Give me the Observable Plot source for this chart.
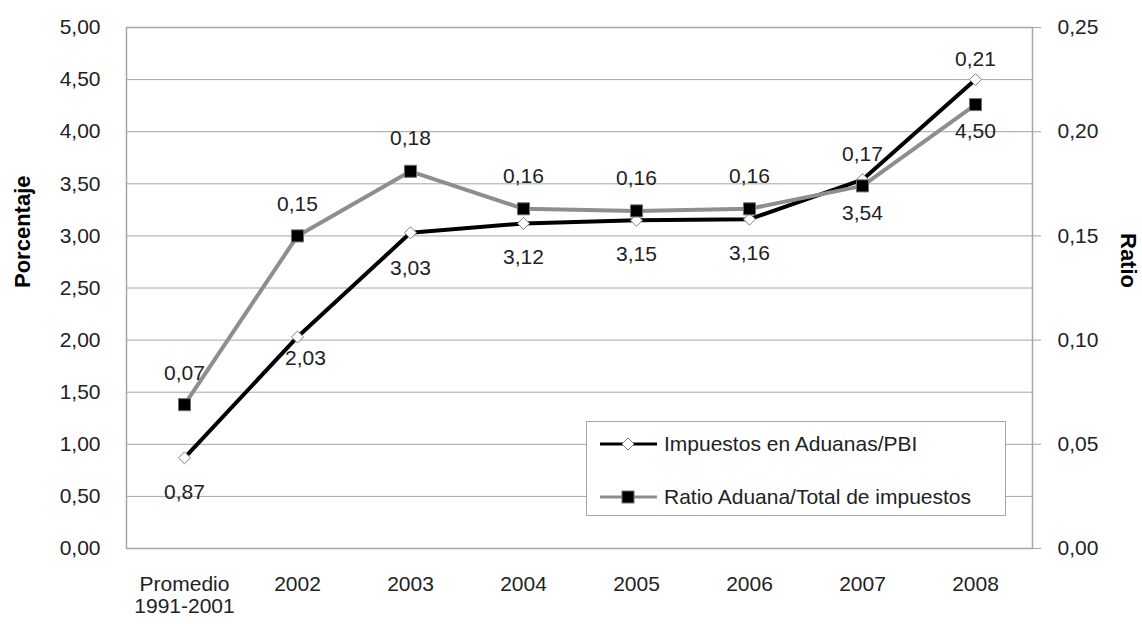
<!DOCTYPE html>
<html>
<head>
<meta charset="utf-8">
<script src="https://cdn.jsdelivr.net/npm/d3@7"></script>
<script src="https://cdn.jsdelivr.net/npm/@observablehq/plot@0.6"></script>
<style>
  html, body { margin: 0; padding: 0; background: #fff; }
  #chart { position: relative; width: 1142px; height: 624px; font-family: "Liberation Sans", Arial, sans-serif; color: #222; }
  #legend {
    position: absolute; left: 586px; top: 421px; width: 420px; height: 95px;
    background: #fff; border: 1px solid #a6a6a6; box-sizing: border-box;
    font-size: 21px; color: #222;
  }
  #legend .item { position: absolute; left: 13px; height: 24px; display: flex; align-items: center; }
  #legend svg { display: block; margin-right: 6px; }
</style>
</head>
<body>
<div id="chart"></div>
<script>
// Categories on the horizontal axis
const categories = ["Promedio\n1991-2001", "2002", "2003", "2004", "2005", "2006", "2007", "2008"];
// Customs taxes as a share of GDP (%), left axis
const impuestosPBI = [0.87, 2.03, 3.03, 3.12, 3.15, 3.16, 3.54, 4.50];
// Customs / total tax ratio, right axis
const ratioAduana = [0.069, 0.150, 0.181, 0.163, 0.162, 0.163, 0.174, 0.213];
// Axis ticks
const leftTicks = [0, 0.5, 1, 1.5, 2, 2.5, 3, 3.5, 4, 4.5, 5];
const rightTicks = [0, 0.05, 0.10, 0.15, 0.20, 0.25];
const rightMax = 0.25;
const leftMax = 5;
const seriesNames = ["Impuestos en Aduanas/PBI", "Ratio Aduana/Total de impuestos"];

// Label placement (pixel offsets from each point)
const pbiLabelDy = [34, 21, 35, 34, 34, 34, 34, 52];
const pbiLabelDx = [0, 8, 0, 0, 0, 0, 0, 0];
const ratioLabelDy = [-31, -32, -33, -33, -33, -33, -32, -45];

// The ratio series shares the left scale, stretched so 0.25 meets 5.00
const scaleRatio = leftMax / rightMax;
const fmt = v => v.toFixed(2).replace(".", ",");

const pbi = categories.map((c, i) => ({cat: c, v: impuestosPBI[i]}));
const ratio = categories.map((c, i) => ({cat: c, v: ratioAduana[i], y: ratioAduana[i] * scaleRatio}));

const gray = "#a6a6a6";
const lineGray = "#8e8e8e";
const textColor = "#222";

const marks = [
  Plot.gridY(leftTicks, {stroke: gray, strokeOpacity: 1, strokeWidth: 1}),
  Plot.frame({stroke: gray, strokeWidth: 1.5}),
  Plot.axisY(leftTicks, {anchor: "left", tickSize: 0, tickPadding: 26, tickFormat: fmt, label: null, fill: textColor}),
  Plot.axisY(rightTicks.map(v => v * scaleRatio), {anchor: "right", tickSize: 8, tickPadding: 17, stroke: gray, tickFormat: d => fmt(d / scaleRatio), label: null, fill: textColor}),
  Plot.axisX({tickSize: 0, tickPadding: 27, label: null, lineHeight: 1.05, fill: textColor}),
  Plot.text(["Porcentaje"], {frameAnchor: "left", dx: -104, rotate: -90, fontWeight: "bold", fontSize: 22, fill: "#000"}),
  Plot.text(["Ratio"], {frameAnchor: "right", dx: 96, rotate: 90, fontWeight: "bold", fontSize: 22, fill: "#000"}),
  Plot.line(pbi, {x: "cat", y: "v", stroke: "#000", strokeWidth: 4}),
  Plot.line(ratio, {x: "cat", y: "y", stroke: lineGray, strokeWidth: 4}),
  Plot.dot(pbi, {x: "cat", y: "v", symbol: "diamond2", r: 5.4, fill: "#fff", stroke: "#808080", strokeWidth: 1}),
  Plot.dot(ratio, {x: "cat", y: "y", symbol: "square", r: 6.8, fill: "#000", stroke: "#707070", strokeWidth: 1}),
  ...pbi.map((d, i) => Plot.text([d], {x: "cat", y: "v", text: d => fmt(d.v), dy: pbiLabelDy[i], dx: pbiLabelDx[i], fill: textColor})),
  ...ratio.map((d, i) => Plot.text([d], {x: "cat", y: "y", text: d => fmt(d.v), dy: ratioLabelDy[i], fill: textColor}))
];

const chart = Plot.plot({
  width: 1142,
  height: 624,
  marginLeft: 126,
  marginRight: 110,
  marginTop: 27,
  marginBottom: 76,
  style: {fontFamily: "'Liberation Sans', Arial, sans-serif", fontSize: "21px", color: textColor, background: "#fff"},
  x: {type: "point", domain: categories, padding: 0.5},
  y: {domain: [0, leftMax]},
  marks
});

const root = document.getElementById("chart");
root.appendChild(chart);

// Legend box inside the plot area
const legend = document.createElement("div");
legend.id = "legend";
const icons = [
  `<svg width="58" height="16"><line x1="0" y1="8" x2="57" y2="8" stroke="#000" stroke-width="3"/><path d="M28 2 L34 8 L28 14 L22 8 Z" fill="#fff" stroke="#808080"/></svg>`,
  `<svg width="58" height="16"><line x1="0" y1="8" x2="57" y2="8" stroke="${lineGray}" stroke-width="3"/><rect x="22" y="2" width="12" height="12" fill="#000" stroke="#707070"/></svg>`
];
const tops = [10, 63];
seriesNames.forEach((name, i) => {
  const item = document.createElement("div");
  item.className = "item";
  item.style.top = tops[i] + "px";
  item.innerHTML = icons[i] + `<span>${name}</span>`;
  legend.appendChild(item);
});
root.appendChild(legend);
</script>
</body>
</html>
